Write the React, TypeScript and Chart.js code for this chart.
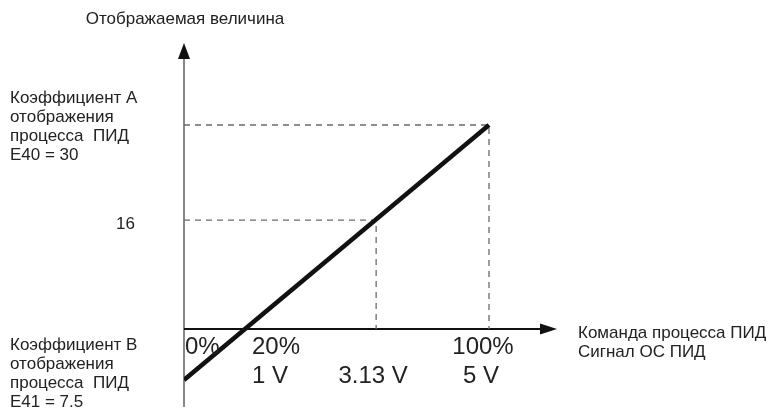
import React, { useEffect, useRef } from "react";
import { Chart, registerables } from "chart.js";

Chart.register(...registerables);

// ---- data ----
const lineX = [0, 100];          // % of input
const lineY = [-7.5, 30];        // displayed value
const guideHighX = [0, 100, 100];
const guideHighY = [30, 30, 0];
const guideMidX = [0, 63, 63];
const guideMidY = [16, 16, 0];

const percentTicks = ["0%", "20%", "100%"];
const percentTickValues = [0, 20, 100];
const voltTicks = ["1 V", "3.13 V", "5 V"];
const voltTickValues = [20, 63, 100];
const yTickLabel = "16";
const yTickValue = 16;

const titleY = "Отображаемая величина";
const titleX = ["Команда процесса ПИД", "Сигнал ОС ПИД"];
const labelA = ["Коэффициент А", "отображения", "процесса  ПИД", "E40 = 30"];
const labelB = ["Коэффициент В", "отображения", "процесса  ПИД", "E41 = 7.5"];

const FONT = "'Liberation Sans', Arial, sans-serif";

const toPts = (xs: number[], ys: number[]) => xs.map((x, i) => ({ x, y: ys[i] }));

const axesPlugin = {
  id: "axesPlugin",
  beforeDatasetsDraw(chart: any) {
    const { ctx, scales } = chart;
    const xs = scales.x, ys = scales.y;
    const x0 = xs.getPixelForValue(0);
    const y0 = ys.getPixelForValue(0);
    ctx.save();
    // y axis
    ctx.strokeStyle = "#6a6a6a";
    ctx.lineWidth = 1.6;
    ctx.beginPath();
    ctx.moveTo(x0, ys.bottom);
    ctx.lineTo(x0, ys.top + 12);
    ctx.stroke();
    ctx.fillStyle = "#111";
    ctx.beginPath();
    ctx.moveTo(x0, ys.top);
    ctx.lineTo(x0 - 6, ys.top + 16);
    ctx.lineTo(x0 + 6, ys.top + 16);
    ctx.closePath();
    ctx.fill();
    // x axis
    ctx.strokeStyle = "#111";
    ctx.lineWidth = 2;
    ctx.beginPath();
    ctx.moveTo(x0, y0);
    ctx.lineTo(xs.right - 12, y0);
    ctx.stroke();
    ctx.beginPath();
    ctx.moveTo(xs.right, y0);
    ctx.lineTo(xs.right - 17, y0 - 5.5);
    ctx.lineTo(xs.right - 17, y0 + 5.5);
    ctx.closePath();
    ctx.fill();
    ctx.restore();
  },
  afterDraw(chart: any) {
    const { ctx, scales } = chart;
    const xs = scales.x, ys = scales.y;
    const x0 = xs.getPixelForValue(0);
    const y0 = ys.getPixelForValue(0);
    ctx.save();
    ctx.fillStyle = "#222";
    ctx.textBaseline = "middle";

    // title of y axis
    ctx.font = `17px ${FONT}`;
    ctx.textAlign = "center";
    ctx.fillText(titleY, x0 + 1, 19);

    // x axis title
    ctx.textAlign = "left";
    titleX.forEach((t, i) => ctx.fillText(t, xs.right + 21, y0 + 4 + i * 19));

    // left blocks
    const yA = ys.getPixelForValue(lineY[1]) + 1;
    labelA.forEach((t, i) => ctx.fillText(t, 10, yA - 28 + i * 19));
    const yB = ys.getPixelForValue(lineY[0]) - 7;
    labelB.forEach((t, i) => ctx.fillText(t, 10, yB - 28 + i * 19));

    // y tick 16
    ctx.textAlign = "right";
    ctx.fillText(yTickLabel, 135, ys.getPixelForValue(yTickValue) + 4);

    // percent ticks
    ctx.font = `24px ${FONT}`;
    const pctAlign = ["left", "left", "center"];
    const pctOff = [1, 7, -6];
    percentTicks.forEach((t, i) => {
      ctx.textAlign = pctAlign[i];
      ctx.fillText(t, xs.getPixelForValue(percentTickValues[i]) + pctOff[i], y0 + 18);
    });
    const vAlign = ["left", "center", "center"];
    const vOff = [7, -3, -8];
    voltTicks.forEach((t, i) => {
      ctx.textAlign = vAlign[i];
      ctx.fillText(t, xs.getPixelForValue(voltTickValues[i]) + vOff[i], y0 + 47);
    });
    ctx.restore();
  },
};

export default function App() {
  const ref = useRef<HTMLCanvasElement | null>(null);
  useEffect(() => {
    if (!ref.current) return;
    const guideStyle = {
      borderColor: "#6a6a6a",
      borderWidth: 1.3,
      borderDash: [6, 5],
      pointRadius: 0,
      fill: false,
      tension: 0,
    };
    const chart = new Chart(ref.current, {
      type: "line",
      data: {
        datasets: [
          {
            data: toPts(lineX, lineY),
            borderColor: "#111",
            borderWidth: 4.5,
            pointRadius: 0,
            fill: false,
            borderCapStyle: "butt",
          },
          { data: toPts(guideHighX, guideHighY), ...guideStyle },
          { data: toPts(guideMidX, guideMidY), ...guideStyle },
        ],
      } as any,
      options: {
        animation: false,
        responsive: false,
        devicePixelRatio: 1,
        layout: { padding: { left: 184, right: 211, top: 43, bottom: 2 } },
        plugins: { legend: { display: false }, tooltip: { enabled: false } },
        scales: {
          x: { type: "linear", min: 0, max: 122.3, display: false },
          y: { type: "linear", min: -11.47, max: 42.06, display: false },
        },
      },
      plugins: [axesPlugin],
    });
    return () => chart.destroy();
  }, []);
  return (
    <div style={{ position: "fixed", left: 0, top: 0, width: 768, height: 409, background: "#fff" }}>
      <canvas ref={ref} width={768} height={409} style={{ width: 768, height: 409 }} />
    </div>
  );
}
